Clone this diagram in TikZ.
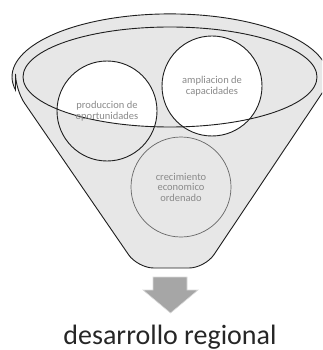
\documentclass[tikz,border=0pt]{standalone}
\usepackage{fontspec}
\setmainfont{Carlito}
\usetikzlibrary{shapes.geometric}
\definecolor{funnelgray}{HTML}{E7E7E7}
\definecolor{linecol}{HTML}{1E1E1E}
\definecolor{labelgray}{HTML}{8A8A8A}
\definecolor{arrowgray}{HTML}{A6A6A6}
\begin{document}
\begin{tikzpicture}[x=1pt,y=-1pt,
  outline/.style={draw=linecol, line width=0.9pt},
  bubble/.style={circle, minimum size=100pt, inner sep=0pt, align=center,
    text=labelgray, font=\fontsize{10.5}{10.5}\selectfont},
]
\useasboundingbox (0,0) rectangle (322,350);
\clip (0,0) rectangle (322,350);
% funnel body
\path[outline, fill=funnelgray]
  (15.5,90) arc[start angle=168, end angle=370, x radius=158, y radius=63]
  {[rounded corners=16pt] -- (205,268) -- (137.7,268) -- (15.5,90)} -- cycle;
% producción white part, clipped to the inner ellipse
\begin{scope}
  \clip (170,77) ellipse [x radius=147, y radius=50];
  \fill[white] (107,111) circle [radius=50];
\end{scope}
% ampliación and crecimiento fills
\node[bubble, fill=white] (amp) at (212,86) {ampliacion de\\capacidades};
\node[bubble, fill=funnelgray, draw=black!60, line width=0.7pt] (cre) at (181,187) {crecimiento\\economico\\ordenado};
% inner ellipse outline
\node[draw=linecol, line width=0.9pt, ellipse, minimum width=294pt, minimum height=100pt, inner sep=0pt] (rim) at (170,77) {};
% circle outlines on top
\node[bubble, outline] (pro) at (107,111) {produccion de\\oportunidades};
\node[bubble, outline] at (amp) {};
% arrow
\path[fill=arrowgray, draw=white!85!black, line width=0.6pt]
  (153,277) -- (187,277) -- (187,290) -- (198,290) -- (170.5,313) -- (143,290) -- (153,290) -- cycle;
\node[anchor=base, font=\fontsize{28}{28}\selectfont, text=black!85, inner sep=0pt] (res) at (170,344) {desarrollo regional};
\end{tikzpicture}
\end{document}
